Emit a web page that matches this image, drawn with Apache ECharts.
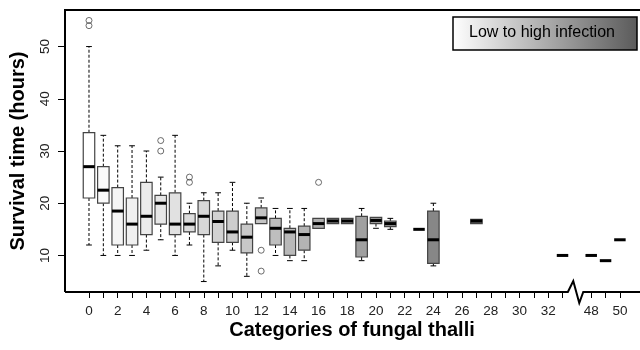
<!DOCTYPE html>
<html><head><meta charset="utf-8">
<script src="https://cdn.jsdelivr.net/npm/echarts@6/dist/echarts.min.js"></script>
<style>html,body{margin:0;padding:0;background:#fff}#c{width:640px;height:350px}</style>
</head><body><div id="c"></div>
<script>
// ---- data ----
const boxCategories = [0,1,2,3,4,5,6,7,8,9,10,11,12,13,14,15,16,17,18,19,20,21,23,24,27,33,48,49,50];
const whiskerLow    = [12,10,10,10,11,13,10,12,5,8, 11,6,16.1,10,9,9,15.2,16.1,16.1,9, 15.2,15,15,8,16.1,10,10,9,13];
const lowerQuartile = [21,20,12,12,14,16,14,14.5,14,12.5, 12.5,10.5,16.1,12,10,11,15.2,16.1,16.1,9.7, 16.1,15.5,15,8.5,16.1,10,10,9,13];
const medians       = [27,22.5,18.5,16,17.5,20,16,16,17.5,16.5, 14.5,13.5,17.2,15.2,14.5,14,16.1,16.6,16.6,13, 16.7,16.1,15,13,16.6,10,10,9,13];
const upperQuartile = [33.5,27,23,21,24,21.5,22,18,20.5,18.5, 18.5,16,19.1,17.1,15.2,15.6,17.1,17.1,17.1,17.5, 17.3,16.6,15,18.5,16.9,10,10,9,13];
const whiskerHigh   = [50,33,31,31,30,25,33,20,22,22, 24,20,21,19,19,19,17.1,17.1,17.1,19, 17.3,17.1,15,20,16.9,10,10,9,13];
const outlierCategories = [0,0,5,5,7,7,12,12,16];
const outlierValues     = [55,54,32,30,25,24,11,7,24];
const tickCategories  = [0,1,2,3,4,5,6,7,8,9,10,11,12,13,14,15,16,17,18,19,20,21,22,23,24,25,26,27,28,29,30,31,32,33,48,49,50];
const labelCategories = [0,2,4,6,8,10,12,14,16,18,20,22,24,26,28,30,32,48,50];
const yTicks = [10,20,30,40,50];
const xTitle = 'Categories of fungal thalli';
const yTitle = 'Survival time (hours)';
const legendText = 'Low to high infection';

// ---- axis break mapping ----
const BREAK_LAST = 33, RESUME_CAT = 48, RESUME_POS = 35, BREAK_POS = 34;
function pos(c){ return c <= BREAK_LAST ? c : c - RESUME_CAT + RESUME_POS; }
const catAtPos = {}; tickCategories.forEach(c => { catAtPos[pos(c)] = c; });

const boxData = boxCategories.map((c,i)=>[pos(c), whiskerLow[i], lowerQuartile[i], medians[i], upperQuartile[i], whiskerHigh[i]]);
const outlierData = outlierCategories.map((c,i)=>[pos(c), outlierValues[i]]);

const X_MIN = -1.672, X_MAX = 38.4, Y_MIN = 3, Y_MAX = 57;
const FONT = '"Liberation Sans", Arial, Helvetica, sans-serif';

function boxRender(params, api){
  const x = api.value(0);
  const lo=api.value(1), q1=api.value(2), md=api.value(3), q3=api.value(4), hi=api.value(5);
  const w = api.size([0.8,0])[0];
  const cap = w/2;
  const pMd = api.coord([x, md]);
  const cx = pMd[0];
  const children = [];
  const g = Math.max(0, Math.round(255 - 5 * x));
  const dash = {stroke:'#000', lineWidth:1, lineDash:[3,2]};
  const solid = {stroke:'#000', lineWidth:1};
  if (q3 > q1) {
    const y1 = api.coord([x,q1])[1], y3 = api.coord([x,q3])[1];
    if (hi > q3) {
      const yh = api.coord([x,hi])[1];
      children.push({type:'line', shape:{x1:cx,y1:y3,x2:cx,y2:yh}, style:dash});
      children.push({type:'line', shape:{x1:cx-cap/2,y1:yh,x2:cx+cap/2,y2:yh}, style:solid});
    }
    if (lo < q1) {
      const yl = api.coord([x,lo])[1];
      children.push({type:'line', shape:{x1:cx,y1:y1,x2:cx,y2:yl}, style:dash});
      children.push({type:'line', shape:{x1:cx-cap/2,y1:yl,x2:cx+cap/2,y2:yl}, style:solid});
    }
    children.push({type:'rect', shape:{x:cx-w/2, y:y3, width:w, height:y1-y3},
      style:{fill:'rgb('+g+','+g+','+g+')', stroke:'#444', lineWidth:1.2}});
  }
  children.push({type:'line', shape:{x1:cx-w/2,y1:pMd[1],x2:cx+w/2,y2:pMd[1]}, style:{stroke:'#000', lineWidth:3}});
  return {type:'group', children};
}

function frameRender(params, api){
  const tl = api.coord([X_MIN, Y_MAX]), tr = api.coord([X_MAX, Y_MAX]);
  const bl = api.coord([X_MIN, Y_MIN]), br = api.coord([X_MAX, Y_MIN]);
  const bp = api.coord([BREAK_POS, Y_MIN]);
  const bx = bp[0], by = bp[1];
  const st = {stroke:'#000', lineWidth:2, fill:null};
  return {type:'group', children:[
    {type:'polyline', shape:{points:[bl, tl, tr]}, style:st},
    {type:'polyline', shape:{points:[bl, [bx-9,by], [bx-3.6,by-11], [bx+2.4,by+11], [bx+6.4,by], br]}, style:st}
  ]};
}

const chart = echarts.init(document.getElementById('c'), null, {renderer:'canvas'});
chart.setOption({
  animation:false,
  backgroundColor:'#fff',
  textStyle:{fontFamily:FONT},
  grid:{left:65, right:0, top:10, bottom:58, show:false},
  xAxis:{
    type:'value', min:X_MIN, max:X_MAX,
    axisLine:{show:false, onZero:false},
    splitLine:{show:false},
    axisTick:{show:true, length:6, lineStyle:{color:'#000', width:1}, customValues: tickCategories.map(pos)},
    axisLabel:{show:true, margin:12, fontSize:13.5, color:'#222', fontFamily:FONT,
      customValues: labelCategories.map(pos),
      formatter: v => String(catAtPos[Math.round(v)])}
  },
  yAxis:{
    type:'value', min:Y_MIN, max:Y_MAX,
    axisLine:{show:false, onZero:false},
    splitLine:{show:false},
    axisTick:{show:true, length:7, lineStyle:{color:'#000', width:1}, customValues: yTicks},
    axisLabel:{show:true, rotate:90, margin:13, fontSize:13.5, color:'#222', fontFamily:FONT, customValues: yTicks}
  },
  series:[
    {type:'custom', name:'boxes', renderItem:boxRender, data:boxData, clip:false, z:2},
    {type:'scatter', name:'outliers', data:outlierData, symbol:'circle', symbolSize:6,
      itemStyle:{color:'rgba(255,255,255,0)', borderColor:'#333', borderWidth:0.9}, z:3},
    {type:'custom', name:'frame', renderItem:frameRender, data:[[0]], clip:false, z:4, silent:true}
  ],
  graphic:[
    {type:'text', x:352, y:330, style:{text:xTitle, font:'bold 20px '+FONT, fill:'#000', align:'center', verticalAlign:'middle'}},
    {type:'text', x:18, y:151, rotation:Math.PI/2, style:{text:yTitle, font:'bold 20px '+FONT, fill:'#000', align:'center', verticalAlign:'middle'}},
    {type:'rect', x:453, y:17, shape:{width:184, height:33},
      style:{fill:new echarts.graphic.LinearGradient(0,0,1,0,[{offset:0,color:'#ffffff'},{offset:1,color:'#5a5a5a'}]), stroke:'#000', lineWidth:1.5}},
    {type:'text', x:542, y:33, style:{text:legendText, font:'16px '+FONT, fill:'#000', align:'center', verticalAlign:'middle'}}
  ]
});
</script></body></html>
